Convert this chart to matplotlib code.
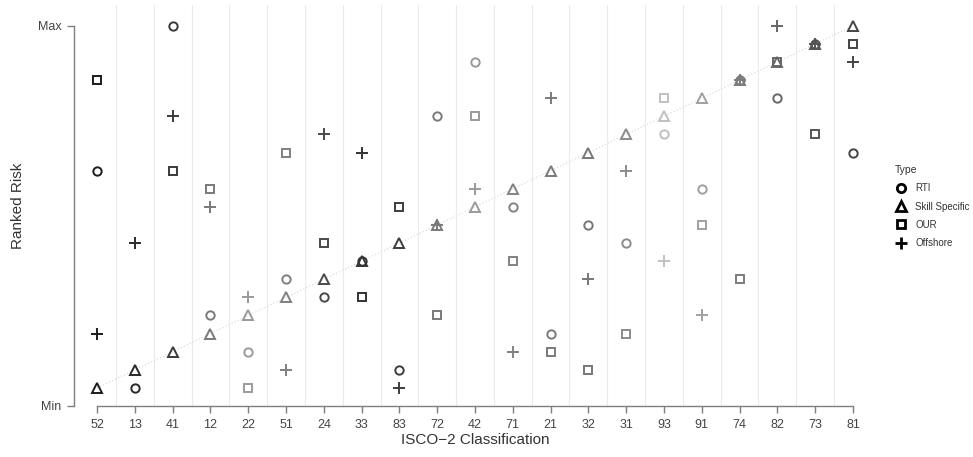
# Ranked risk of each ISCO-2 group under four automation risk measures.
# Points are ranks (1 = lowest risk), columns sorted by Skill Specific rank.

import numpy as np
import matplotlib.pyplot as plt
from matplotlib.lines import Line2D

plt.rcParams['font.family'] = ['Liberation Sans', 'DejaVu Sans']

# data
categories = ['52', '13', '41', '12', '22', '51', '24', '33', '83', '72', '42',
              '71', '21', '32', '31', '93', '91', '74', '82', '73', '81']
rti      = [13, 1, 21, 5, 3, 7, 6, 8, 2, 16, 19, 11, 4, 10, 9, 15, 12, 18, 17, 20, 14]
skill    = [1, 2, 3, 4, 5, 6, 7, 8, 9, 10, 11, 12, 13, 14, 15, 16, 17, 18, 19, 20, 21]
our      = [18, np.nan, 13, 12, 1, 14, 9, 6, 11, 5, 16, 8, 3, 2, 4, 17, 10, 7, 19, 15, 20]
offshore = [4, 9, 16, 11, 6, 2, 15, 14, 1, 10, 12, 3, 17, 7, 13, 8, 5, 18, 21, 20, 19]
# grey shade of each column
shades = ['#1c1c1c', '#2a2a2a', '#3a3a3a', '#7a7a7a', '#9a9a9a', '#808080', '#4a4a4a',
          '#333333', '#3d3d3d', '#7a7a7a', '#9a9a9a', '#828282', '#7a7a7a', '#777777',
          '#8c8c8c', '#c0c0c0', '#a0a0a0', '#7c7c7c', '#666666', '#555555', '#444444']

types = [('RTI', rti, 'o', 6.0),
         ('Skill Specific', skill, '^', 7.0),
         ('OUR', our, 's', 5.5),
         ('Offshore', offshore, '+', 9.0)]

x = np.arange(len(categories))

fig = plt.figure(figsize=(9.73, 4.57), dpi=100)
ax = fig.add_axes([74/973, 1 - 406/457, 802/973, 401/457])

# separators between columns
for xv in x[:-1] + 0.5:
    ax.axvline(xv, color='#ebebeb', lw=0.8, zorder=0)

# faint trend through skill specific ranks
ax.plot(x, skill, ls=':', color='#dcdcdc', lw=0.9, zorder=1)

for name, vals, mk, ms in types:
    for xi, v, c in zip(x, vals, shades):
        if np.isnan(v):
            continue
        ax.plot(xi, v, ls='none', marker=mk, ms=ms, mfc='none', mec=c, mew=1.4, zorder=3)

ax.set_xlim(-0.61, 20.61)
ax.set_ylim(0, 22.15)
ax.set_xticks(x)
ax.set_xticklabels(categories)
ax.set_yticks([0, 21])
ax.set_yticklabels(['Min', 'Max'])

for side in ['top', 'right']:
    ax.spines[side].set_visible(False)
ax.spines['left'].set_bounds(0, 21)
ax.spines['bottom'].set_bounds(0, 20)
for side in ['left', 'bottom']:
    ax.spines[side].set_color('#7f7f7f')
    ax.spines[side].set_linewidth(1.0)
ax.tick_params(length=5, width=1.0, color='#7f7f7f', labelcolor='#444444',
               labelsize=9, pad=4)

ax.set_xlabel('ISCO\u22122 Classification', fontsize=11, color='#333333')
ax.set_ylabel('Ranked Risk', fontsize=11, color='#333333')
ax.xaxis.set_label_coords(0.5, -0.068)
ax.yaxis.set_label_coords(-0.061, 0.5)

handles = [Line2D([], [], ls='none', marker=mk, ms=ms, mfc='none', mec='black',
                  mew=2.0) for _, _, mk, ms in types]
leg = fig.legend(handles, [t[0] for t in types], title='Type',
                 loc='upper left', bbox_to_anchor=(895/973, 1 - 165/457),
                 frameon=False, fontsize=7, title_fontsize=7.5,
                 handlelength=1.2, handletextpad=0.9, labelspacing=0.85,
                 borderpad=0, borderaxespad=0, alignment='left')
for t in leg.get_texts():
    t.set_color('#333333')
leg.get_title().set_color('#333333')

fig.savefig('out.png', dpi=100)
